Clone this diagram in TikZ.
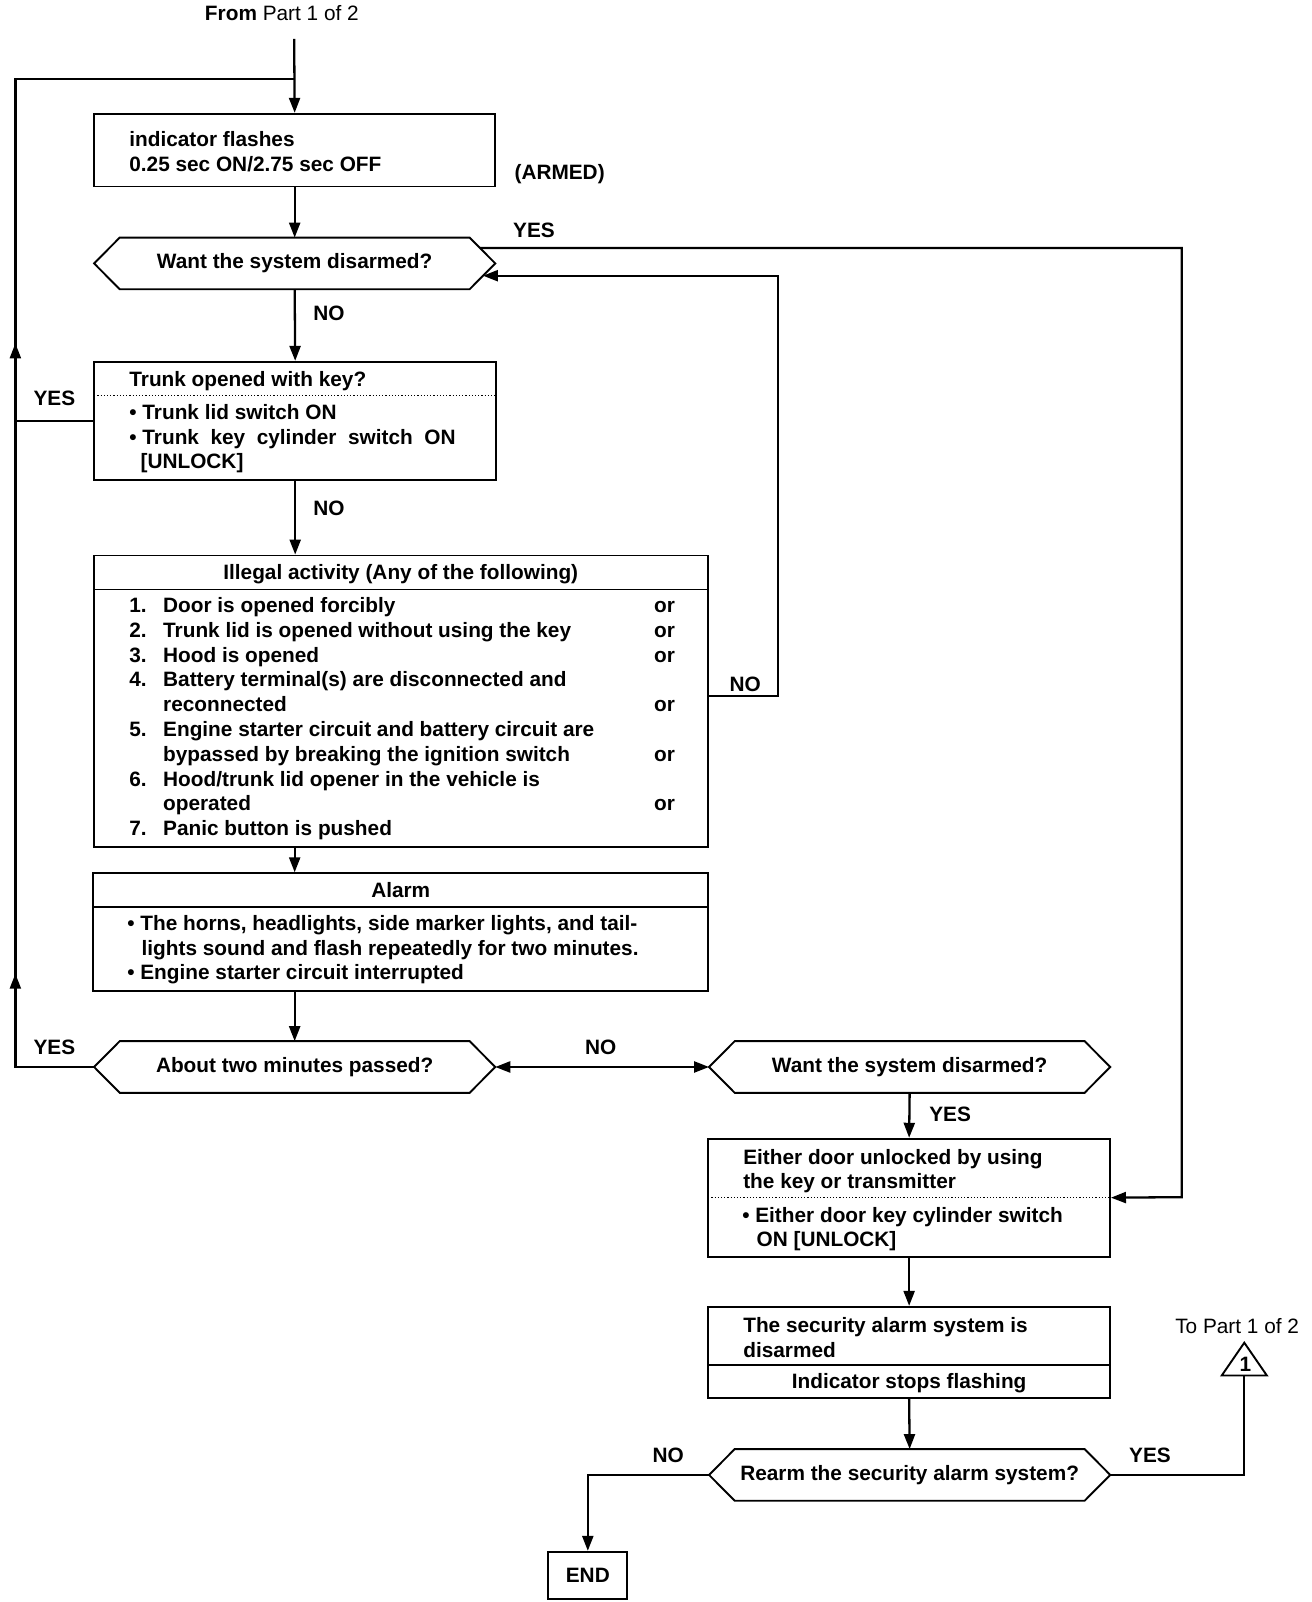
\documentclass[tikz,border=0pt]{standalone}
\usepackage{fontspec}
\setmainfont{Liberation Sans}
\usetikzlibrary{arrows.meta,calc,fit}
\newcommand\hexout[1]{\draw[line width=1.9pt,line join=miter] (#1.west) -- ($(#1.north west)+(25,0)$) -- ($(#1.north east)+(-25,0)$) -- (#1.east) -- ($(#1.south east)+(-25,0)$) -- ($(#1.south west)+(25,0)$) -- cycle;}
\begin{document}
\begin{tikzpicture}[x=1.025pt,y=-1.025pt,
  ln/.style={line width=2.3pt},
  arr/.style={ln,-{Triangle[length=15pt,width=11pt]}},
  darr/.style={ln,{Triangle[length=15pt,width=11pt]}-{Triangle[length=15pt,width=11pt]}},
  bx/.style={draw,line width=1.9pt,inner sep=0pt},
  area/.style={inner sep=0pt},
  fnt/.style={font=\fontsize{20.8}{24}\selectfont\bfseries},
  tx/.style={fnt,inner sep=0pt,anchor=base west},
  ctx/.style={fnt,inner sep=0pt,anchor=base},
  lbl/.style={fnt,inner sep=0pt},
  sep/.style={line width=1.6pt},
  dots/.style={line width=1.2pt,dotted},
]
\useasboundingbox (0,0) rectangle (1280,1563);

% ---------- header ----------
\node[lbl,anchor=base] (from) at (275,20) {From {\mdseries Part 1 of 2}};
\coordinate (top) at (287,38);
\coordinate (tl) at (15,77);
\coordinate (tj) at (287,77);

% ---------- box 1 ----------
\node[bx,fit={(92,111)(483,182)}] (b1) {};
\node[tx] (b1a) at (126,143) {indicator flashes};
\node[tx] (b1b) at (126,167) {0.25 sec ON/2.75 sec OFF};
\node[lbl] (armed) at (546,170) {(ARMED)};

% ---------- hex 1 ----------
\node[area,fit={(92,232)(483,282)}] (h1) {};
\hexout{h1}
\node[lbl] (h1t) at (h1.center) {Want the system disarmed?};

% ---------- box 2 ----------
\node[bx,fit={(92,353)(484,468)}] (b2) {};
\draw[dots] (92,386) -- (484,386);
\node[tx] (b2a) at (126,377) {Trunk opened with key?};
\node[tx] (b2b) at (126,409) {• Trunk lid switch ON};
\node[tx] (b2c) at (126,434) {• Trunk\ \ key\ \ cylinder\ \ switch\ \ ON};
\node[tx] (b2d) at (137,457) {[UNLOCK]};

% ---------- box 3 ----------
\node[bx,fit={(92,542)(691,826)}] (b3) {};
\draw[sep] (92,575) -- (691,575);
\node[ctx] (b3t) at (391,565) {Illegal activity (Any of the following)};
\node[tx] (n1) at (126,598) {1.};
\node[tx] (i1) at (159,598) {Door is opened forcibly};
\node[tx] (o1) at (638,598) {or};
\node[tx] (n2) at (126,622) {2.};
\node[tx] (i2) at (159,622) {Trunk lid is opened without using the key};
\node[tx] (o2) at (638,622) {or};
\node[tx] (n3) at (126,646) {3.};
\node[tx] (i3) at (159,646) {Hood is opened};
\node[tx] (o3) at (638,646) {or};
\node[tx] (n4) at (126,670) {4.};
\node[tx] (i4) at (159,670) {Battery terminal(s) are disconnected and};
\node[tx] (i4b) at (159,694) {reconnected};
\node[tx] (o4) at (638,694) {or};
\node[tx] (n5) at (126,719) {5.};
\node[tx] (i5) at (159,719) {Engine starter circuit and battery circuit are};
\node[tx] (i5b) at (159,743) {bypassed by breaking the ignition switch};
\node[tx] (o5) at (638,743) {or};
\node[tx] (n6) at (126,767) {6.};
\node[tx] (i6) at (159,767) {Hood/trunk lid opener in the vehicle is};
\node[tx] (i6b) at (159,791) {operated};
\node[tx] (o6) at (638,791) {or};
\node[tx] (n7) at (126,815) {7.};
\node[tx] (i7) at (159,815) {Panic button is pushed};

% ---------- box 4 ----------
\node[bx,fit={(91,852)(691,967)}] (b4) {};
\draw[sep] (91,885) -- (691,885);
\node[ctx] (b4t) at (391,876) {Alarm};
\node[tx] (b4a) at (124,908) {• The horns, headlights, side marker lights, and tail-};
\node[tx] (b4b) at (138,932) {lights sound and flash repeatedly for two minutes.};
\node[tx] (b4c) at (124,956) {• Engine starter circuit interrupted};

% ---------- hex 2, hex 3 ----------
\node[area,fit={(92,1016)(483,1066)}] (h2) {};
\hexout{h2}
\node[lbl] (h2t) at (h2.center) {About two minutes passed?};
\node[area,fit={(692,1016)(1083,1066)}] (h3) {};
\hexout{h3}
\node[lbl] (h3t) at (h3.center) {Want the system disarmed?};

% ---------- box 5 ----------
\node[bx,fit={(691,1111)(1083,1226)}] (b5) {};
\draw[dots] (691,1168) -- (1083,1168);
\node[tx] (b5a) at (725,1136) {Either door unlocked by using};
\node[tx] (b5b) at (725,1160) {the key or transmitter};
\node[tx] (b5c) at (724,1193) {• Either door key cylinder switch};
\node[tx] (b5d) at (738,1216) {ON [UNLOCK]};

% ---------- box 6 ----------
\node[bx,fit={(691,1275)(1083,1364)}] (b6) {};
\draw[sep] (691,1332) -- (1083,1332);
\node[tx] (b6a) at (725,1300) {The security alarm system is};
\node[tx] (b6b) at (725,1324) {disarmed};
\node[ctx] (b6c) at (887,1355) {Indicator stops flashing};

% ---------- hex 4 ----------
\node[area,fit={(692,1414)(1083,1464)}] (h4) {};
\hexout{h4}
\node[lbl] (h4t) at (h4.center) {Rearm the security alarm system?};

% ---------- connector triangle ----------
\coordinate (tri) at (1214,1342);
\draw[line width=1.9pt,line join=miter] (1192,1342) -- (1214,1310) -- (1236,1342) -- cycle;
\node[lbl] (tri1) at (1215,1331) {1};
\node[lbl,anchor=base] (topart) at (1207,1301) {\mdseries To Part 1 of 2};

% ---------- END ----------
\node[bx,fit={(535,1514)(612,1560)}] (end) {};
\node[lbl] (endt) at (end.center) {END};

% ---------- connectors ----------
\draw[arr] (top) -- (b1.north);
\draw[ln] (h2.west) -- (15,1041) -- (15,950);
\draw[arr] (15,1000) -- (15,950);
\draw[ln] (15,950) -- (15,340);
\draw[arr] (15,400) -- (15,335);
\draw[ln] (15,340) -- (tl) -- (tj);
\draw[ln] (b2.west) -- (b2.west -| tl);
\node[lbl] (yes1) at (53,389) {YES};
\node[lbl] (yes2) at (53,1022) {YES};

\draw[arr] (b1.south) -- (h1.north);
\draw[arr] (h1.south) -- (b2.north);
\node[lbl] (no1) at (321,306) {NO};
\draw[arr] (b2.south) -- (b3.north -| b2.south);
\node[lbl] (no2) at (321,496) {NO};
\draw[arr] (b3.south -| b1.south) -- (b4.north -| b1.south);
\draw[arr] (b4.south -| b1.south) -- (h2.north);

% YES from hex 1 to box 5
\draw[arr] ($(h1.east)+(-15,-15)$) -- (1153,242) -- (1153,1168) -- (b5.east);
\node[lbl] (yes0) at (521,225) {YES};
% NO from box 3 back to hex 1
\draw[arr] (691,679) -- (759,679) -- (759,269) -- ($(h1.east)+(-12,12)$);
\node[lbl] (no3) at (727,668) {NO};

\draw[darr] (h2.east) -- (h3.west);
\node[lbl] (no4) at (586,1022) {NO};
\draw[arr] (h3.south) -- (b5.north);
\node[lbl] (yes3) at (927,1087) {YES};
\draw[arr] (b5.south) -- (b6.north);
\draw[arr] (b6.south) -- (h4.north);
\draw[ln] (h4.east) -- (tri |- h4.east) -- (tri);
\node[lbl] (yes4) at (1122,1420) {YES};
\draw[arr] (h4.west) -- (end.north |- h4.west) -- (end.north);
\node[lbl] (no5) at (652,1420) {NO};
\end{tikzpicture}
\end{document}
